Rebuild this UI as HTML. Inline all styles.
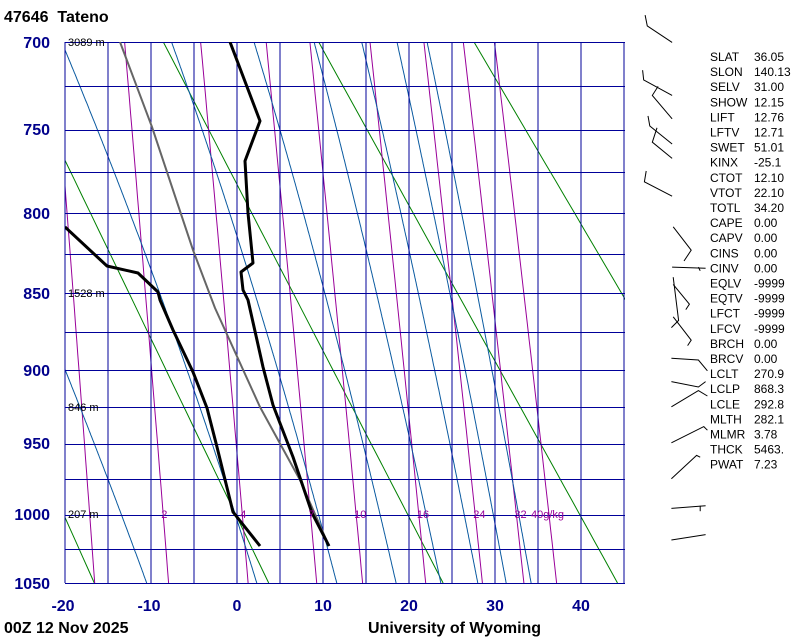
<!DOCTYPE html>
<html><head><meta charset="utf-8"><style>
html,body{margin:0;padding:0;background:#fff;}
svg{display:block;}
text{font-family:"Liberation Sans",Arial,sans-serif;}
</style></head><body>
<svg id="s" width="800" height="640" viewBox="0 0 800 640" xmlns="http://www.w3.org/2000/svg">
<defs><clipPath id="cp"><rect x="65" y="42" width="560" height="541"/></clipPath></defs>
<g id="bg" clip-path="url(#cp)"></g>
<g id="grid"></g>
<g id="snd" clip-path="url(#cp)" fill="none" stroke-linejoin="round">
<polyline stroke="#666" stroke-width="2" points="120,42 152,127 193,250 215,308 260,407 300,480 329,546"/>
<polyline stroke="#000" stroke-width="3" points="230,42 260,121 245,161 248,213 253,263 241,272 243,290 248,300 263,367 273,405 293,457 312,513 329,546"/>
<polyline stroke="#000" stroke-width="3" points="65,227 107,266 138,273 158,292 160,300 173,330 193,372 207,408 217,447 233,512 260,546"/>
</g>
<g font-size="11" fill="#000">
<text x="68" y="46">3089 m</text>
<text x="68" y="297">1528 m</text>
<text x="68" y="411">846 m</text>
<text x="68" y="518">207 m</text>
</g>
<g id="mrl" font-size="11" fill="#990099"></g>
<g font-size="16" font-weight="bold" fill="#00008b" text-anchor="end">
<text x="50" y="48">700</text><text x="50" y="135">750</text><text x="50" y="219">800</text>
<text x="50" y="299">850</text><text x="50" y="376">900</text><text x="50" y="449">950</text>
<text x="50" y="520">1000</text><text x="50" y="589">1050</text>
</g>
<g font-size="16" font-weight="bold" fill="#00008b" text-anchor="middle">
<text x="63" y="611">-20</text><text x="149" y="611">-10</text><text x="237" y="611">0</text>
<text x="323" y="611">10</text><text x="409" y="611">20</text><text x="495" y="611">30</text><text x="581" y="611">40</text>
</g>
<text x="4" y="22" font-size="16" font-weight="bold" xml:space="preserve">47646  Tateno</text>
<text x="4" y="633" font-size="16" font-weight="bold">00Z 12 Nov 2025</text>
<text x="368" y="633" font-size="16" font-weight="bold">University of Wyoming</text>
<g id="stats" font-size="12" fill="#000"></g>
<g transform="translate(630,0) scale(0.36)" fill="none" stroke="#000" stroke-width="2.8">
<polyline points="42,42 48,72 117,118"/>
<polyline points="35,195 38,222 117,265"/>
<polyline points="78,240 62,265 117,330"/>
<polyline points="50,322 55,350 117,400"/>
<polyline points="75,355 62,395 117,440"/>
<polyline points="45,475 40,505 117,545"/>
<polyline points="120,630 170,695 150,725"/>
<polyline points="117,742 210,745"/><polyline points="190,742 195,752"/>
<polyline points="120,770 135,890 115,910"/>
<polyline points="120,790 165,845 155,860"/>
<polyline points="120,880 170,945 160,960"/>
<polyline points="115,995 190,1000 215,1030"/>
<polyline points="115,1060 190,1075 210,1060"/>
<polyline points="115,1130 190,1085 215,1100"/>
<polyline points="115,1230 205,1185 215,1195"/>
<polyline points="115,1330 185,1265 195,1270"/>
<polyline points="115,1412 210,1405"/><polyline points="195,1405 195,1420"/>
<polyline points="115,1500 210,1485"/>
</g>
</svg>
<script>
var K=0.286,P0=Math.pow(700,K),P1=Math.pow(1050,K);
function Y(p){return 42+(Math.pow(p,K)-P0)*541/(P1-P0);}
function X(t){return 237+8.6*t;}
var NS="http://www.w3.org/2000/svg";
function el(parent,tag,attrs,txt){var e=document.createElementNS(NS,tag);for(var k in attrs)e.setAttribute(k,attrs[k]);if(txt!=null)e.textContent=txt;parent.appendChild(e);return e;}
var bg=document.getElementById('bg'),grid=document.getElementById('grid');
function line(pts,col,w){var s=pts.map(function(q){return q[0].toFixed(1)+','+q[1].toFixed(1)}).join(' ');el(bg,'polyline',{points:s,fill:'none',stroke:col,'stroke-width':w||1});}
for(var th=213;th<=393;th+=20){var pts=[];for(var p=700;p<=1050;p+=10){pts.push([X(th*Math.pow(p/1000,K)-273.15),Y(p)]);}line(pts,'#008000');}
function es(t){return 6.112*Math.exp(17.67*t/(t+243.5));}
function td(w,p){var e=w*p/(622+w);var l=Math.log(e/6.112);return 243.5*l/(17.67-l);}
var mrs=[0.4,1,2,4,7,10,16,24,32,40];
mrs.forEach(function(w){var pts=[];for(var p=700;p<=1050;p+=10)pts.push([X(td(w,p)),Y(p)]);line(pts,'#990099');});
function moist(t0){var T=t0+273.15,pts=[];for(var p=1050;p>=690;p-=1){pts.push([X(T-273.15),Y(p)]);var e=es(T-273.15),rs=0.622*e/(p-e);var d=(287*T+2.5e6*rs)/(p*(1005+2.5e6*2.5e6*rs*0.622/(287*T*T)));T-=d;}return pts;}
[-10.5,2.3,11.6,18.5,23.7,28.0,31.3,34.2].forEach(function(t){line(moist(t),'#0a5aa0');});
for(var t=-20;t<=45;t+=5){var x=X(t);el(grid,'line',{x1:x,y1:42,x2:x,y2:583,stroke:'#000099','stroke-width':1});}
for(var p=700;p<=1050;p+=25){var y=Math.round(Y(p))+0.5;el(grid,'line',{x1:65,y1:y,x2:625,y2:y,stroke:'#000099','stroke-width':1});}
var ml=document.getElementById('mrl');
[[2,'2'],[4,'4'],[7,'7'],[10,'10'],[16,'16'],[24,'24'],[32,'32']].forEach(function(a){el(ml,'text',{x:X(td(a[0],1000))-2,y:518},a[1]);});
el(ml,'text',{x:531,y:518},'40g/kg');
var st=[["SLAT","36.05"],["SLON","140.13"],["SELV","31.00"],["SHOW","12.15"],["LIFT","12.76"],["LFTV","12.71"],["SWET","51.01"],["KINX","-25.1"],["CTOT","12.10"],["VTOT","22.10"],["TOTL","34.20"],["CAPE","0.00"],["CAPV","0.00"],["CINS","0.00"],["CINV","0.00"],["EQLV","-9999"],["EQTV","-9999"],["LFCT","-9999"],["LFCV","-9999"],["BRCH","0.00"],["BRCV","0.00"],["LCLT","270.9"],["LCLP","868.3"],["LCLE","292.8"],["MLTH","282.1"],["MLMR","3.78"],["THCK","5463."],["PWAT","7.23"]];
var sg=document.getElementById('stats');
st.forEach(function(r,i){var y=61+i*15.1;el(sg,'text',{x:710,y:y},r[0]);el(sg,'text',{x:754,y:y},r[1]);});
</script>
</body></html>
